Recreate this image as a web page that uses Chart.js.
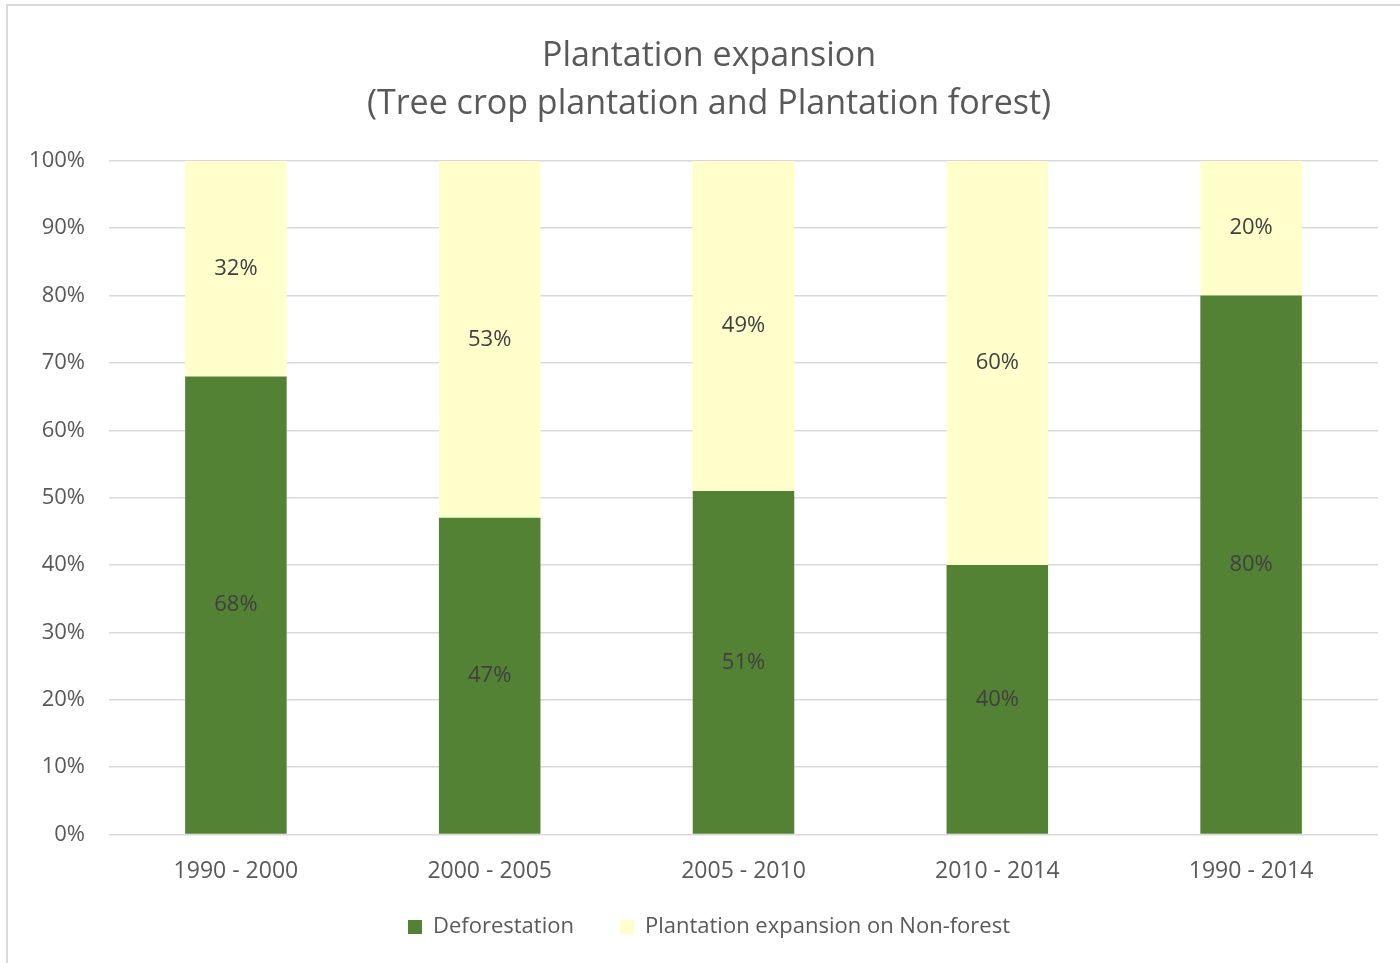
<!DOCTYPE html>
<html>
<head>
<meta charset="utf-8">
<script src="https://cdn.jsdelivr.net/npm/chart.js@4"></script>
<style>
  body { margin: 0; background: #fff; overflow: hidden; }
  #wrap {
    position: absolute; left: 6px; top: 4px; width: 1402px; height: 980px;
    border-left: 2px solid #d9d9d9; border-top: 2px solid #d9d9d9;
  }
</style>
</head>
<body>
<div id="wrap"><canvas id="plantationChart"></canvas></div>
<script>
const periods = ['1990 - 2000', '2000 - 2005', '2005 - 2010', '2010 - 2014', '1990 - 2014'];
const deforestation = [68, 47, 51, 40, 80];
const nonForest = [32, 53, 49, 60, 20];
const titleLines = ['Plantation expansion', '(Tree crop plantation and Plantation forest)'];

const fontName = '"Open Sans", sans-serif';
const legendLift = 38;

// draw the percentage in the middle of each bar segment
const segmentLabels = {
    id: 'segmentLabels',
    afterLayout(chart) {
        // wide gaps between legend items, but keep the legend close to the axis labels
        chart.legend.top -= legendLift;
        chart.legend.bottom -= legendLift;
    },
    afterDatasetsDraw(chart) {
        const ctx = chart.ctx;
        ctx.save();
        ctx.font = '22px ' + fontName;
        ctx.fillStyle = '#404040';
        ctx.textAlign = 'center';
        ctx.textBaseline = 'middle';
        chart.data.datasets.forEach((ds, i) => {
            chart.getDatasetMeta(i).data.forEach((bar, j) => {
                const mid = (bar.y + bar.base) / 2;
                ctx.fillText(ds.data[j] + '%', bar.x, mid);
            });
        });
        ctx.restore();
    }
};

const ctx = document.getElementById('plantationChart').getContext('2d');
new Chart(ctx, {
    type: 'bar',
    data: {
        labels: periods,
        datasets: [
            {
                label: 'Deforestation',
                data: deforestation,
                backgroundColor: '#548235',
                categoryPercentage: 1,
                barPercentage: 0.4
            },
            {
                label: 'Plantation expansion on Non-forest',
                data: nonForest,
                backgroundColor: '#ffffcc',
                categoryPercentage: 1,
                barPercentage: 0.4
            }
        ]
    },
    options: {
        responsive: true,
        maintainAspectRatio: false,
        animation: false,
        layout: { padding: { top: 0, right: 0, bottom: 0, left: 0 } },
        scales: {
            x: {
                stacked: true,
                grid: { display: false, drawTicks: false },
                border: { display: false },
                ticks: { color: '#595959', font: { family: fontName, size: 23 }, padding: 23 }
            },
            y: {
                stacked: true,
                min: 0,
                max: 100,
                afterFit(scale) { scale.width = 101; },
                grid: { color: '#d9d9d9', lineWidth: 1.5, drawTicks: false },
                border: { display: false },
                ticks: {
                    stepSize: 10,
                    padding: 24,
                    color: '#595959',
                    font: { family: fontName, size: 22 },
                    callback: v => v + '%'
                }
            },
            // empty right-hand axis only to leave the blank strip right of the plot
            yRight: {
                position: 'right',
                afterFit(scale) { scale.width = 32; },
                grid: { display: false },
                border: { display: false },
                ticks: { display: false }
            }
        },
        plugins: {
            title: {
                display: true,
                text: titleLines,
                color: '#595959',
                font: { family: fontName, size: 34, weight: 'normal', lineHeight: 1.41 },
                padding: { top: 26, bottom: 33 }
            },
            legend: {
                position: 'bottom',
                labels: {
                    color: '#595959',
                    font: { family: fontName, size: 22 },
                    boxWidth: 14,
                    boxHeight: 14,
                    padding: 46
                }
            },
            tooltip: { enabled: false }
        }
    },
    plugins: [segmentLabels]
});
</script>
</body>
</html>
